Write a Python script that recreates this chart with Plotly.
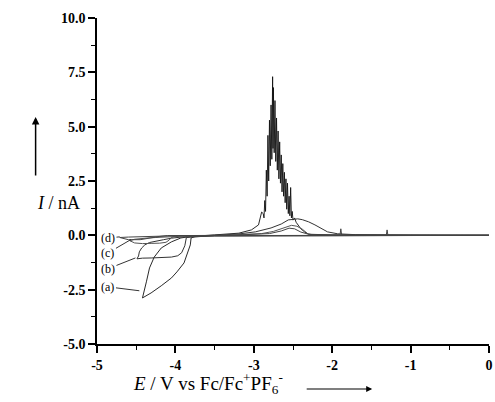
import plotly.graph_objects as go

# ---- data ----
# curve (a): cathodic loop + noisy anodic stripping peak
Ea = [0.0, -1.0, -2.0, -3.0, -3.5, -3.75, -3.80, -3.81, -3.85, -3.89, -3.98, -4.05, -4.18, -4.31, -4.42,
      -4.39, -4.37, -4.33, -4.27, -4.18, -4.05, -3.93, -3.80, -3.5, -3.19, -3.03, -2.94, -2.90,
      -2.88, -2.87, -2.86, -2.85, -2.84, -2.83, -2.82, -2.81, -2.80, -2.79, -2.78, -2.77, -2.76, -2.755,
      -2.75, -2.74, -2.73, -2.72, -2.71, -2.70, -2.69, -2.68, -2.67, -2.66, -2.65, -2.64, -2.63, -2.62,
      -2.61, -2.60, -2.59, -2.58, -2.57, -2.56, -2.55, -2.54, -2.53, -2.52, -2.51, -2.50, -2.48, -2.46,
      -2.44, -2.40, -2.35, -2.30, -2.0, -1.0, 0.0]
Ia = [0.0, 0.0, 0.0, -0.02, -0.03, -0.06, -0.12, -0.44, -0.9, -1.27, -1.68, -1.96, -2.32, -2.65, -2.88,
      -2.5, -2.14, -1.5, -1.0, -0.58, -0.3, -0.12, -0.05, 0.02, 0.1, 0.25, 0.48, 1.07,
      1.0, 0.8, 1.6, 1.1, 3.0, 1.8, 4.6, 2.5, 5.3, 3.2, 6.0, 3.5, 7.3, 4.0,
      6.8, 3.8, 6.2, 3.4, 5.4, 3.0, 4.8, 2.6, 4.3, 2.4, 3.7, 2.0, 3.3, 1.8,
      2.9, 1.5, 2.6, 1.2, 2.4, 1.0, 1.8, 0.9, 2.2, 0.8, 1.1, 0.7, 0.8, 0.6,
      0.5, 0.3, 0.15, 0.05, 0.02, 0.01, 0.0]

# curve (b)
Eb = [0.0, -2.0, -3.5, -3.86, -3.88, -3.92, -3.97, -4.05, -4.18, -4.30, -4.42, -4.49, -4.47, -4.46,
      -4.43, -4.39, -4.33, -4.25, -4.15, -4.05, -3.95, -3.8, -3.5, -3.2, -2.98, -2.78, -2.65, -2.56,
      -2.48, -2.44, -2.38, -2.30, -2.22, -2.14, -2.06, -1.93, -1.7, -1.0, 0.0]
Ib = [0.0, 0.0, -0.01, -0.1, -0.48, -0.8, -0.94, -1.0, -1.03, -1.04, -1.05, -1.08, -0.95, -0.76,
      -0.58, -0.44, -0.33, -0.26, -0.2, -0.13, -0.08, -0.03, 0.0, 0.06, 0.16, 0.34, 0.52, 0.71,
      0.74, 0.76, 0.72, 0.62, 0.48, 0.3, 0.16, 0.07, 0.03, 0.01, 0.0]

# curve (c)
Ec = [0.0, -2.0, -3.5, -4.0, -4.05, -4.08, -4.12, -4.2, -4.3, -4.42, -4.52, -4.58, -4.52, -4.45,
      -4.35, -4.25, -4.12, -4.0, -3.8, -3.4, -3.1, -2.9, -2.75, -2.62, -2.52, -2.45, -2.38, -2.31,
      -2.25, -2.0, 0.0]
Ic = [0.0, 0.0, 0.0, -0.03, -0.1, -0.22, -0.32, -0.36, -0.37, -0.38, -0.35, -0.25, -0.18, -0.15,
      -0.12, -0.1, -0.07, -0.04, -0.02, 0.0, 0.03, 0.08, 0.18, 0.32, 0.46, 0.42, 0.28, 0.07,
      0.02, 0.0, 0.0]

# curve (d)
Ed = [0.0, -2.0, -4.1, -4.2, -4.3, -4.45, -4.6, -4.71, -4.6, -4.45, -4.3, -4.15, -3.9, -3.3, -3.0,
      -2.8, -2.65, -2.55, -2.48, -2.40, -2.3, -2.2, -1.95, -1.9, -1.89, -1.88, -1.5, -1.31, -1.30,
      -1.29, -0.5, 0.0]
Id = [0.0, 0.0, -0.01, -0.05, -0.12, -0.2, -0.2, -0.1, -0.08, -0.06, -0.05, -0.03, -0.01, 0.0, 0.03,
      0.08, 0.2, 0.33, 0.3, 0.15, 0.05, 0.02, 0.02, 0.02, 0.3, 0.02, 0.01, 0.01, 0.25,
      0.01, 0.0, 0.0]

labels = ["(a)", "(b)", "(c)", "(d)"]
label_pos = [(-4.86, -2.37), (-4.86, -1.54), (-4.86, -0.81), (-4.86, -0.12)]
label_tip = [(-4.46, -2.55), (-4.51, -1.04), (-4.57, -0.2), (-4.71, -0.07)]

x_ticks = [-5, -4, -3, -2, -1, 0]
y_ticks = [-5.0, -2.5, 0.0, 2.5, 5.0, 7.5, 10.0]

# ---- figure ----
serif = "Liberation Serif"
fig = go.Figure()
series = [(Ea, Ia, "#111111", 0.9), (Eb, Ib, "#333333", 1), (Ec, Ic, "#555555", 1), (Ed, Id, "#444444", 1)]
for (E, I, col, w), name in zip(series, labels):
    fig.add_trace(go.Scatter(x=E, y=I, mode="lines", name=name,
                             line=dict(color=col, width=w), showlegend=False))

for txt, (lx, ly), (tx, ty) in zip(labels, label_pos, label_tip):
    fig.add_annotation(x=tx, y=ty, ax=lx, ay=ly, axref="x", ayref="y", xref="x", yref="y",
                       text=txt, showarrow=True, arrowhead=0, arrowwidth=0.8, arrowcolor="black",
                       font=dict(family=serif, size=12, color="black"))

# axis titles
fig.add_annotation(xref="paper", yref="paper", x=-0.159, y=0.4325, showarrow=False,
                   text="<i>I</i> / nA", font=dict(family=serif, size=18, color="black"))
fig.add_annotation(xref="paper", yref="paper", x=-0.1566, y=0.696, ax=0, ay=60, text="",
                   showarrow=True, arrowhead=2, arrowsize=1, arrowwidth=1.5, arrowcolor="black")
fig.add_annotation(xref="paper", yref="paper", x=0.088, y=-0.12, xanchor="left", yanchor="middle",
                   showarrow=False,
                   text="<i>E</i> / V vs Fc/Fc<sup>+</sup>PF<sub>6</sub><sup>-</sup>",
                   font=dict(family=serif, size=19, color="black"))
fig.add_annotation(xref="paper", yref="paper", x=0.702, y=-0.138, ax=-67, ay=0, text="",
                   showarrow=True, arrowhead=2, arrowsize=1, arrowwidth=1.2, arrowcolor="black")

fig.update_xaxes(range=[-5, 0], tickvals=x_ticks, ticktext=[str(v) for v in x_ticks],
                 showline=True, linecolor="black", linewidth=1.5, mirror=False,
                 ticks="outside", ticklen=7, tickwidth=1.5, tickcolor="black",
                 ticklabeloverflow="allow",
                 minor=dict(dtick=0.5, tick0=0, ticks="outside", ticklen=4, tickwidth=1.2, tickcolor="black"),
                 showgrid=False, zeroline=False,
                 tickfont=dict(family=serif, size=14, color="black", weight="bold"))
fig.update_yaxes(range=[-5, 10], tickvals=y_ticks, ticktext=[f"{v:.1f}" for v in y_ticks],
                 showline=True, linecolor="black", linewidth=1.5, mirror=False,
                 ticks="outside", ticklen=7, tickwidth=1.5, tickcolor="black",
                 ticklabeloverflow="allow",
                 minor=dict(dtick=1.25, tick0=0, ticks="outside", ticklen=4, tickwidth=1.2, tickcolor="black"),
                 showgrid=False, zeroline=False,
                 tickfont=dict(family=serif, size=14, color="black", weight="bold"))

fig.update_layout(width=495, height=402, margin=dict(l=97, r=2, t=18, b=58),
                  paper_bgcolor="white", plot_bgcolor="white")
fig.write_html("out.html")
